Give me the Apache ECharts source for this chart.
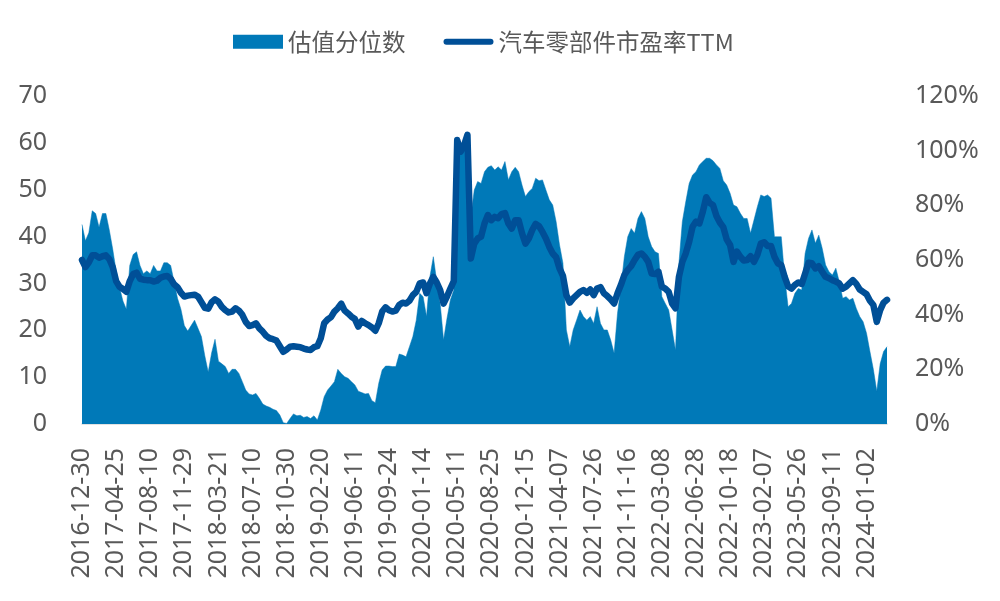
<!DOCTYPE html>
<html>
<head>
<meta charset="utf-8">
<script src="https://cdn.jsdelivr.net/npm/echarts@6/dist/echarts.min.js"></script>
<style>
html,body{margin:0;padding:0;background:#fff;}
#main{width:1000px;height:601px;}
</style>
</head>
<body>
<div id="main"></div>
<script>
// Tick label dates shown on the x axis (every 10th sample)
const labelDates = ['2016-12-30','2017-04-25','2017-08-10','2017-11-29','2018-03-21','2018-07-10','2018-10-30','2019-02-20','2019-06-11','2019-09-24','2020-01-14','2020-05-11','2020-08-25','2020-12-15','2021-04-07','2021-07-26','2021-11-16','2022-03-08','2022-06-28','2022-10-18','2023-02-07','2023-05-26','2023-09-11','2024-01-02'];

// 汽车零部件市盈率TTM (left axis)
const peTTM = [
35.0,33.5,34.5,36.0,36.0,35.5,35.8,36.0,35.2,33.5,
30.5,29.3,28.8,28.2,30.5,32.0,32.3,31.0,30.8,30.7,
30.7,30.4,30.6,31.2,31.5,31.6,31.0,29.8,29.2,28.0,
27.2,27.4,27.5,27.6,27.2,26.0,24.8,24.6,26.0,26.6,
26.1,25.0,24.3,23.8,24.0,24.7,24.2,23.3,21.8,20.9,
21.1,21.5,20.4,19.7,18.8,18.3,18.1,17.8,16.6,15.4,
15.9,16.5,16.6,16.5,16.4,16.1,15.9,15.8,16.4,16.6,
18.3,21.5,22.3,22.8,24.0,24.7,25.7,24.2,23.6,22.9,
22.4,20.8,22.0,21.5,21.1,20.6,19.9,21.5,24.0,24.9,
24.3,24.0,24.2,25.4,25.9,25.7,26.3,27.5,28.2,30.0,
30.2,27.9,30.0,31.4,30.2,28.6,25.7,27.2,28.9,30.5,
60.6,58.1,59.5,61.7,35.3,38.5,39.6,40.0,42.8,44.6,
43.5,44.2,43.9,44.8,45.0,42.8,41.7,43.5,43.5,40.7,
38.5,39.6,41.4,42.7,42.2,41.0,39.6,37.8,36.4,35.6,
33.2,31.6,27.5,25.9,26.8,27.5,28.2,28.6,28.0,28.7,
27.5,28.9,29.2,27.9,27.3,26.6,25.7,27.9,29.7,31.8,
32.9,33.7,35.0,36.1,36.4,35.7,34.6,32.1,32.0,32.5,
29.3,28.9,28.2,25.7,24.7,31.4,34.6,36.4,38.9,42.1,
43.2,42.8,45.3,48.4,47.2,46.7,44.4,43.0,42.0,39.4,
38.2,34.6,36.8,35.7,34.9,35.0,35.8,34.6,36.1,38.5,
38.8,38.0,38.0,35.7,34.3,33.9,31.4,29.4,28.9,29.7,
30.2,29.9,32.1,34.4,34.3,33.2,33.7,32.5,31.4,31.1,
30.7,30.4,30.0,28.9,29.3,30.0,30.7,29.9,28.7,28.2,
27.7,26.3,25.4,21.8,24.3,25.9,26.5
];

// 估值分位数 (right axis, %)
const percentile = [
73,67,70,78,77,72,77,77,71,64,
56,50,45,42,58,62,63,58,55,56,
55,58,56,56,59,59,58,52,46,42,
36,34,36,38,35,32,25,19,26,31,
23,22,21,18.5,20,20,18.5,15.5,12.4,11,
10.6,11.2,9.4,7.3,6.6,6.1,5.4,4.9,3.3,0.5,
0.2,2,3.7,3,3.2,2.4,2.7,2,3,1.5,
5.1,10,12.4,13.9,15.5,20,18.5,17.3,16.7,15.5,
14.3,12,11.5,11,11.2,8.5,7.8,14.9,19.8,21.2,
21.2,21,21,25.6,25.2,24.6,28.3,32,38,47.8,
46.6,39.3,53.9,61.2,52,44.1,30.7,38.6,45.4,49,
100,100,100,100,75.9,85.6,88.7,88,92.3,93.9,
94.5,92.9,94.1,92.9,96,89.3,92.3,93.9,92.3,87.4,
83.2,85,86.2,89.9,89,89.3,85.6,82,80.1,74,
65.5,58.8,34.4,28.3,34.4,38,41.7,39.3,38,39.3,
36.8,42.9,36.8,34.4,34.4,30.7,25.9,40.5,50.2,61.2,
68.5,71.5,69.8,75.2,77.7,75.2,68.5,64.9,63,62.4,
46.6,44.1,41.7,34.4,27,58.8,74,81.3,88,91.1,
92.3,94.8,96,97.2,97.2,96.3,94.8,93.5,89,87.4,
84.4,80.1,79.5,77.1,75.2,75.2,69.8,74.6,79.5,83.8,
83.2,83.8,82.6,68.5,68.5,68.5,53.9,42.9,44.1,47.8,
49.6,49,62.4,67.9,71,66.1,69.1,64.3,58.2,55.7,
54.5,57,52.1,46,46.6,45.4,46,42.3,39.3,37.4,
33.2,26.5,20,12,22,26.5,28.3
];

const leftTicks = {min:0, max:70, interval:10};
const rightTicks = {min:0, max:120, interval:20};
const STEP = 10; // samples between consecutive tick labels

// build category list: tick dates at every STEP-th sample, in-between samples dated between them
function fmt(d){return d.toISOString().slice(0,10);}
const categories = [];
for (let i = 0; i < peTTM.length; i++) {
  const k = Math.floor(i / STEP), r = i % STEP;
  if (r === 0 && k < labelDates.length) { categories.push(labelDates[k]); continue; }
  const a = new Date(labelDates[Math.min(k, labelDates.length-1)] + 'T00:00:00Z');
  let b;
  if (k + 1 < labelDates.length) b = new Date(labelDates[k+1] + 'T00:00:00Z');
  else b = new Date(a.getTime() + 110*86400000);
  const t = a.getTime() + (b.getTime() - a.getTime()) * r / STEP;
  categories.push(fmt(new Date(t)));
}

const FONT = "'Noto Sans', 'Noto Sans CJK SC', sans-serif";
const TXT = '#595959';
const AREA = '#0079B8';
const LINE = '#004F97';
const LINE_ICON = 'path://M3,0 L47,0 A3,3 0 0 1 47,6 L3,6 A3,3 0 0 1 3,0 Z';

const chart = echarts.init(document.getElementById('main'), null, {renderer:'canvas'});
chart.setOption({
  animation: false,
  backgroundColor: '#ffffff',
  textStyle: {fontFamily: FONT},
  legend: {
    top: 25, left: 228,
    itemWidth: 50, itemHeight: 14, itemGap: 38,
    symbolKeepAspect: true,
    textStyle: {fontSize: 23.5, color: TXT, fontFamily: "'Noto Sans CJK SC', sans-serif"},
    data: [
      {name: '估值分位数', icon: 'rect'},
      {name: '汽车零部件市盈率TTM', icon: LINE_ICON}
    ]
  },
  grid: {left: 82, right: 113, top: 96, bottom: 177, containLabel: false},
  xAxis: {
    type: 'category',
    data: categories,
    boundaryGap: false,
    axisLine: {show: true, lineStyle: {color: '#D9D9D9', width: 1.5}},
    axisTick: {show: false},
    axisLabel: {interval: STEP - 1, rotate: 90, margin: 24, fontSize: 25, color: TXT, fontFamily: FONT},
    splitLine: {show: false}
  },
  yAxis: [
    {type: 'value', min: leftTicks.min, max: leftTicks.max, interval: leftTicks.interval,
     axisLine: {show: false}, axisTick: {show: false}, splitLine: {show: false},
     axisLabel: {margin: 35, fontSize: 25, color: TXT, fontFamily: FONT}},
    {type: 'value', min: rightTicks.min, max: rightTicks.max, interval: rightTicks.interval,
     position: 'right',
     axisLine: {show: false}, axisTick: {show: false}, splitLine: {show: false},
     axisLabel: {margin: 28, fontSize: 25, color: TXT, fontFamily: FONT, formatter: '{value}%'}}
  ],
  series: [
    {name: '估值分位数', type: 'line', yAxisIndex: 1, data: percentile,
     showSymbol: false, symbol: 'none', z: 1,
     itemStyle: {color: AREA},
     lineStyle: {width: 0.5, color: AREA},
     areaStyle: {color: AREA, opacity: 1}},
    {name: '汽车零部件市盈率TTM', type: 'line', yAxisIndex: 0, data: peTTM,
     showSymbol: false, symbol: 'none', z: 3,
     itemStyle: {color: LINE},
     lineStyle: {width: 6.5, color: LINE, cap: 'round', join: 'round'}}
  ]
});
</script>
</body>
</html>
